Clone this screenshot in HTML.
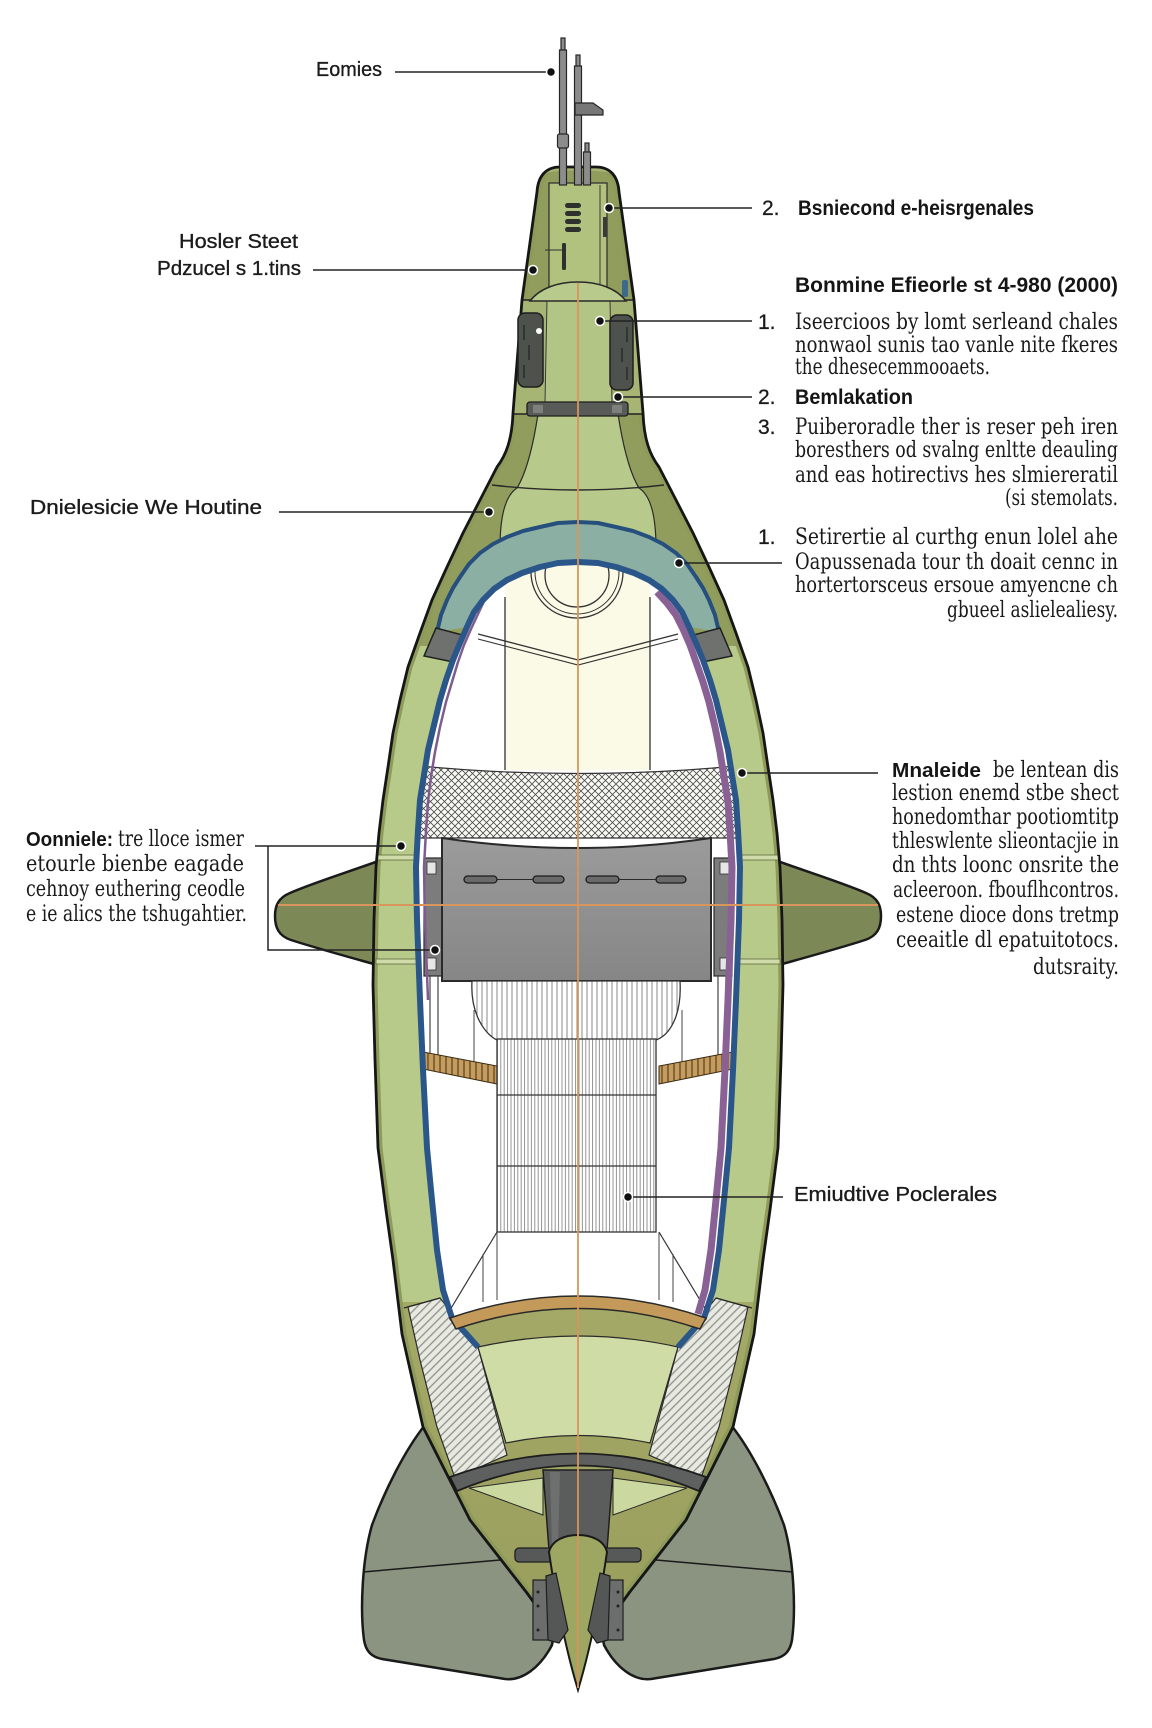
<!DOCTYPE html>
<html>
<head>
<meta charset="utf-8">
<style>
  html,body{margin:0;padding:0;background:#fff;}
  svg{display:block;}
  .lab{font-family:"Liberation Sans",Arial,sans-serif;font-size:20px;fill:#1b1b1b;stroke:#1b1b1b;stroke-width:0.35;}
  .bold{font-family:"Liberation Sans",Arial,sans-serif;font-weight:bold;font-size:21px;fill:#151515;}
  .num{font-family:"Liberation Sans",Arial,sans-serif;font-size:21px;fill:#1b1b1b;stroke:#1b1b1b;stroke-width:0.3;}
  .ser{font-family:"DejaVu Serif","Liberation Serif",serif;font-size:22px;fill:#1a1a1a;}
</style>
</head>
<body>
<svg width="1152" height="1728" viewBox="0 0 1152 1728" xmlns="http://www.w3.org/2000/svg">
<defs>
  <clipPath id="bodyClip">
    <path d="M560,167 L596,167 C610,167 618,176 619,192 L634,300 L643,413 C644,440 650,455 659,467 L676,500 L693,533 L709,567 L724,600 L736,633 L748,667 L756,700 L763,733 L768,767 L773,800 L777,833 L780,867 L782,920 L783,985 L781,1060 L778,1148 L770,1210 L763,1260 L754,1334 L733,1427 L686,1520 L629,1593 L606,1625 L550,1625 L527,1593 L470,1520 L423,1427 L402,1334 L393,1260 L386,1210 L378,1148 L375,1060 L373,985 L374,920 L376,867 L379,833 L383,800 L388,767 L393,733 L400,700 L408,667 L420,633 L432,600 L447,567 L463,533 L480,500 L497,467 C506,455 512,440 513,413 L522,300 L537,192 C538,176 546,167 560,167 Z"/>
  </clipPath>
  <clipPath id="cavClip">
    <path d="M452,1318 L443,1290 L437,1250 L431,1190 L427,1148 L423,1070 L420,1000 L417,920 L416,867 L418,830 L420,800 L424,775 L428,750 L434,725 L440,700 L446,680 L453,660 L460,643 L467,627 L474,612 L483,600 L494,589 L507,580 L522,573 L540,567 L558,563 L578,562 L598,563 L616,567 L634,573 L649,580 L662,589 L673,600 L682,612 L689,627 L696,643 L703,660 L710,680 L716,700 L722,725 L728,750 L732,775 L736,800 L738,830 L740,867 L739,920 L736,1000 L733,1070 L729,1148 L725,1190 L719,1250 L713,1290 L704,1318 Q578,1276 452,1318 Z"/>
  </clipPath>
  <pattern id="hatch" width="6" height="6" patternUnits="userSpaceOnUse" patternTransform="rotate(45)">
    <rect width="6" height="6" fill="#e8eae2"/>
    <line x1="1" y1="0" x2="1" y2="6" stroke="#8d8f8a" stroke-width="1.3"/>
  </pattern>
  <pattern id="xh" width="7" height="7" patternUnits="userSpaceOnUse">
    <rect width="7" height="7" fill="#fbfbf6"/>
    <path d="M0,0 L7,7 M7,0 L0,7" stroke="#4a4a4a" stroke-width="0.8"/>
  </pattern>
  <pattern id="vl" width="3.4" height="10" patternUnits="userSpaceOnUse">
    <rect width="3.4" height="10" fill="#ffffff"/>
    <line x1="1" y1="0" x2="1" y2="10" stroke="#7a7a7a" stroke-width="0.8"/>
  </pattern>
  <pattern id="pleat" width="5" height="10" patternUnits="userSpaceOnUse">
    <rect width="5" height="10" fill="#ffffff"/>
    <line x1="2" y1="0" x2="2" y2="10" stroke="#6a6a6a" stroke-width="0.8"/>
  </pattern>
  <pattern id="wood" width="6" height="10" patternUnits="userSpaceOnUse">
    <rect width="6" height="10" fill="#c39c60"/>
    <line x1="2" y1="0" x2="2" y2="10" stroke="#7a5628" stroke-width="1.6"/>
  </pattern>
  <linearGradient id="boxg" x1="0" y1="0" x2="0" y2="1">
    <stop offset="0" stop-color="#9b9b9b"/>
    <stop offset="1" stop-color="#868686"/>
  </linearGradient>
  <linearGradient id="tailg" x1="0" y1="0" x2="0" y2="1">
    <stop offset="0" stop-color="#a5a967"/>
    <stop offset="1" stop-color="#979c5a"/>
  </linearGradient>
</defs>

<rect width="1152" height="1728" fill="#ffffff"/>

<!-- horizontal fins -->
<path d="M395,855 C355,870 315,882 290,893 C278,898 275,906 275,916 C275,928 279,936 291,940 C322,950 360,960 395,970 Z" fill="#7d8857" stroke="#1a1a1a" stroke-width="2.5"/>
<path d="M761,855 C801,870 841,882 866,893 C878,898 881,906 881,916 C881,928 877,936 865,940 C834,950 796,960 761,970 Z" fill="#7d8857" stroke="#1a1a1a" stroke-width="2.5"/>

<!-- tail fins -->
<path d="M425,1425 C405,1450 385,1490 372,1525 C362,1560 360,1610 364,1640 C366,1652 372,1657 382,1659 L505,1679 C522,1681 540,1668 552,1645 L560,1600 L470,1520 Z" fill="#8a9481" stroke="#1a1a1a" stroke-width="2.5"/>
<path d="M731,1425 C751,1450 771,1490 784,1525 C794,1560 796,1610 792,1640 C790,1652 784,1657 774,1659 L651,1679 C634,1681 616,1668 604,1645 L596,1600 L686,1520 Z" fill="#8a9481" stroke="#1a1a1a" stroke-width="2.5"/>
<line x1="363" y1="1572" x2="500" y2="1560" stroke="#1a1a1a" stroke-width="1.5"/>
<line x1="793" y1="1572" x2="656" y2="1560" stroke="#1a1a1a" stroke-width="1.5"/>

<!-- body base -->
<path d="M560,167 L596,167 C610,167 618,176 619,192 L634,300 L643,413 C644,440 650,455 659,467 L676,500 L693,533 L709,567 L724,600 L736,633 L748,667 L756,700 L763,733 L768,767 L773,800 L777,833 L780,867 L782,920 L783,985 L781,1060 L778,1148 L770,1210 L763,1260 L754,1334 L733,1427 L686,1520 L629,1593 L606,1625 L550,1625 L527,1593 L470,1520 L423,1427 L402,1334 L393,1260 L386,1210 L378,1148 L375,1060 L373,985 L374,920 L376,867 L379,833 L383,800 L388,767 L393,733 L400,700 L408,667 L420,633 L432,600 L447,567 L463,533 L480,500 L497,467 C506,455 512,440 513,413 L522,300 L537,192 C538,176 546,167 560,167 Z" fill="#b8ca89"/>

<g clip-path="url(#bodyClip)">
  <rect x="300" y="160" width="560" height="486" fill="#919d5c"/>
  <rect x="300" y="1302" width="560" height="400" fill="url(#tailg)"/>
  <path d="M560,167 L596,167 C610,167 618,176 619,192 L634,300 L643,413 C644,440 650,455 659,467 L676,500 L693,533 L709,567 L724,600 L736,633 L748,667 L756,700 L763,733 L768,767 L773,800 L777,833 L780,867 L782,920 L783,985 L781,1060 L778,1148 L770,1210 L763,1260 L754,1334 L733,1427 L686,1520 L629,1593 L606,1625 L550,1625 L527,1593 L470,1520 L423,1427 L402,1334 L393,1260 L386,1210 L378,1148 L375,1060 L373,985 L374,920 L376,867 L379,833 L383,800 L388,767 L393,733 L400,700 L408,667 L420,633 L432,600 L447,567 L463,533 L480,500 L497,467 C506,455 512,440 513,413 L522,300 L537,192 C538,176 546,167 560,167 Z" fill="none" stroke="#8e9a5a" stroke-width="9"/>

  <rect x="549" y="183" width="58" height="110" fill="#b1c27f" stroke="#2a2a2a" stroke-width="1.2"/>
  <path d="M545,172 C555,168 600,168 612,172" fill="none" stroke="#a9b575" stroke-width="3"/>
  <line x1="600" y1="185" x2="600" y2="290" stroke="#3a3a3a" stroke-width="1"/>
  <rect x="603" y="217" width="4" height="20" fill="#3a3a3a"/>

  <path d="M522,300 L634,300 L643,414 L513,414 Z" fill="#b3c585"/>
  <path d="M522,300 L547,300 L545,414 L513,414 Z" fill="#a6b573"/>
  <path d="M610,300 L634,300 L643,414 L612,414 Z" fill="#a6b573"/>
  <line x1="547" y1="300" x2="545" y2="403" stroke="#3a3a3a" stroke-width="1"/>
  <line x1="610" y1="300" x2="612" y2="403" stroke="#3a3a3a" stroke-width="1"/>
  <line x1="520" y1="300" x2="636" y2="300" stroke="#222" stroke-width="1.5"/>
  <line x1="512" y1="414" x2="645" y2="414" stroke="#222" stroke-width="1.5"/>

  <path d="M538,414 L618,414 C622,440 628,470 639,488 C650,495 656,515 656,548 L500,548 C500,515 506,495 517,488 C528,470 534,440 538,414 Z" fill="#b8ca8b" stroke="#2a2a2a" stroke-width="1.2"/>
  <path d="M492,485 Q578,495 664,485" fill="none" stroke="#2a2a2a" stroke-width="1.4"/>

  <path d="M437,632 L441,615 L447,600 L453,588 L460,577 L469,564 L480,553 L493,544 L507,537 L523,531 L540,527 L558,523 L578,522 L598,523 L616,527 L633,531 L649,537 L663,544 L676,553 L687,564 L696,577 L703,588 L709,600 L715,615 L719,632 L689,627 L682,612 L673,600 L662,589 L649,580 L634,573 L616,567 L598,563 L578,562 L558,563 L540,567 L522,573 L507,580 L494,589 L483,600 L474,612 L467,627 Z" fill="#8cafa4"/>
  <path d="M437,632 L441,615 L447,600 L453,588 L460,577 L469,564 L480,553 L493,544 L507,537 L523,531 L540,527 L558,523 L578,522 L598,523 L616,527 L633,531 L649,537 L663,544 L676,553 L687,564 L696,577 L703,588 L709,600 L715,615 L719,632" fill="none" stroke="#264f7e" stroke-width="4" stroke-linejoin="round"/>
  <path d="M424,656 L436,628 L470,637 L463,664 Z" fill="#6e716e" stroke="#1e1e1e" stroke-width="1.5"/>
  <path d="M732,656 L720,628 L686,637 L693,664 Z" fill="#6e716e" stroke="#1e1e1e" stroke-width="1.5"/>

  <rect x="376" y="855" width="42" height="5" fill="#d0dbaa" stroke="#5e6a3e" stroke-width="0.8"/>
  <rect x="376" y="959" width="42" height="5" fill="#d0dbaa" stroke="#5e6a3e" stroke-width="0.8"/>
  <rect x="738" y="855" width="42" height="5" fill="#d0dbaa" stroke="#5e6a3e" stroke-width="0.8"/>
  <rect x="738" y="959" width="42" height="5" fill="#d0dbaa" stroke="#5e6a3e" stroke-width="0.8"/>

  <path d="M408,1307 L440,1298 L448,1308 L455,1318 L478,1347 L507,1455 L455,1478 L437,1427 L420,1360 Z" fill="url(#hatch)" stroke="#2a2a2a" stroke-width="1.2"/>
  <path d="M748,1307 L716,1298 L708,1308 L701,1318 L678,1347 L649,1455 L701,1478 L719,1427 L736,1360 Z" fill="url(#hatch)" stroke="#2a2a2a" stroke-width="1.2"/>
  <path d="M478,1347 Q578,1325 678,1347 L650,1443 Q578,1428 506,1443 Z" fill="#cfdca6" stroke="#2a2a2a" stroke-width="1.2"/>
  <path d="M469,1488 L543,1478 L543,1515 Z" fill="#cbd9a0" stroke="#2a2a2a" stroke-width="1"/>
  <path d="M687,1488 L613,1478 L613,1515 Z" fill="#cbd9a0" stroke="#2a2a2a" stroke-width="1"/>
</g>

<!-- cavity -->
<g clip-path="url(#cavClip)">
  <rect x="400" y="550" width="360" height="780" fill="#ffffff"/>
  <rect x="505" y="555" width="145" height="215" fill="#fafae6"/>
  <circle cx="577" cy="572" r="46" fill="none" stroke="#333" stroke-width="1.3"/>
  <circle cx="577" cy="572" r="42" fill="none" stroke="#333" stroke-width="1"/>
  <circle cx="577" cy="575" r="32" fill="none" stroke="#333" stroke-width="1.3"/>
  <line x1="505" y1="597" x2="505" y2="770" stroke="#333" stroke-width="1.3"/>
  <line x1="650" y1="597" x2="650" y2="770" stroke="#333" stroke-width="1.3"/>
  <path d="M478,634 L578,660 L678,634" fill="none" stroke="#333" stroke-width="1.3"/>
  <path d="M478,639 L578,665 L678,639" fill="none" stroke="#333" stroke-width="1.1"/>
  <path d="M410,765 Q578,782 746,765 L746,838 L410,838 Z" fill="url(#xh)" stroke="#333" stroke-width="1.2"/>
  <rect x="424" y="858" width="18" height="118" fill="#7c7c7c" stroke="#2a2a2a" stroke-width="1.2"/>
  <rect x="714" y="858" width="18" height="118" fill="#7c7c7c" stroke="#2a2a2a" stroke-width="1.2"/>
  <rect x="427" y="862" width="9" height="12" fill="#e6e6e6" stroke="#333" stroke-width="0.8"/>
  <rect x="427" y="958" width="9" height="12" fill="#e6e6e6" stroke="#333" stroke-width="0.8"/>
  <rect x="720" y="862" width="9" height="12" fill="#e6e6e6" stroke="#333" stroke-width="0.8"/>
  <rect x="720" y="958" width="9" height="12" fill="#e6e6e6" stroke="#333" stroke-width="0.8"/>
  <line x1="430" y1="976" x2="430" y2="1060" stroke="#444" stroke-width="1.2"/>
  <line x1="438" y1="976" x2="438" y2="1058" stroke="#444" stroke-width="1.2"/>
  <line x1="726" y1="976" x2="726" y2="1060" stroke="#444" stroke-width="1.2"/>
  <line x1="718" y1="976" x2="718" y2="1058" stroke="#444" stroke-width="1.2"/>
  <line x1="474" y1="1010" x2="474" y2="1062" stroke="#444" stroke-width="1"/>
  <line x1="682" y1="1010" x2="682" y2="1062" stroke="#444" stroke-width="1"/>
  <path d="M442,838 Q578,858 711,838 L711,981 L442,981 Z" fill="url(#boxg)" stroke="#2a2a2a" stroke-width="2"/>
  <g fill="#6a6a6a" stroke="#1e1e1e" stroke-width="1.3">
    <rect x="464" y="876" width="33" height="7" rx="3.5"/>
    <rect x="533" y="876" width="31" height="7" rx="3.5"/>
    <rect x="586" y="876" width="33" height="7" rx="3.5"/>
    <rect x="656" y="876" width="30" height="7" rx="3.5"/>
  </g>
  <line x1="497" y1="879.5" x2="533" y2="879.5" stroke="#2a2a2a" stroke-width="1"/>
  <line x1="619" y1="879.5" x2="656" y2="879.5" stroke="#2a2a2a" stroke-width="1"/>
  <path d="M418,1051 L497,1066 L497,1084 L418,1068 Z" fill="url(#wood)" stroke="#3a2a10" stroke-width="1"/>
  <path d="M738,1051 L659,1066 L659,1084 L738,1068 Z" fill="url(#wood)" stroke="#3a2a10" stroke-width="1"/>
  <path d="M472,981 L680,981 C682,1015 670,1035 656,1040 L497,1040 C486,1035 470,1015 472,981 Z" fill="url(#pleat)" stroke="#333" stroke-width="1.3"/>
  <rect x="497" y="1039" width="159" height="193" fill="url(#vl)" stroke="#333" stroke-width="1.3"/>
  <line x1="497" y1="1095" x2="656" y2="1095" stroke="#333" stroke-width="1.3"/>
  <line x1="497" y1="1166" x2="656" y2="1166" stroke="#333" stroke-width="1.3"/>
  <line x1="497" y1="1232" x2="450" y2="1310" stroke="#333" stroke-width="1.2"/>
  <line x1="659" y1="1232" x2="706" y2="1310" stroke="#333" stroke-width="1.2"/>
  <line x1="483" y1="1254" x2="483" y2="1302" stroke="#444" stroke-width="1"/>
  <line x1="497" y1="1232" x2="497" y2="1300" stroke="#444" stroke-width="1"/>
  <line x1="673" y1="1254" x2="673" y2="1302" stroke="#444" stroke-width="1"/>
  <line x1="659" y1="1232" x2="659" y2="1300" stroke="#444" stroke-width="1"/>
</g>

<path d="M657,592 L667,603 L676,615 L683,629 L690,645 L696,662 L703,682 L709,702 L715,727 L720,752 L724,777 L728,802 L730,831 L732,867 L731,920 L728,1000 L725,1070 L721,1148 L717,1190 L711,1250 L705,1290 L698,1314" fill="none" stroke="#8a6195" stroke-width="7" stroke-linejoin="round"/>
<path d="M497,586 L486,597 L478,614 L471,629 L464,645 L458,662 L452,682 L446,702 L440,727 L435,752 L431,777 L428,802 L426,831 L424,867 L425,920 L428,1000" fill="none" stroke="#7e5d8e" stroke-width="2.5" stroke-linejoin="round"/>
<path d="M478,1347 L452,1318 L443,1290 L437,1250 L431,1190 L427,1148 L423,1070 L420,1000 L417,920 L416,867 L418,830 L420,800 L424,775 L428,750 L434,725 L440,700 L446,680 L453,660 L460,643 L467,627 L474,612 L483,600 L494,589 L507,580 L522,573 L540,567 L558,563 L578,562 L598,563 L616,567 L634,573 L649,580 L662,589 L673,600 L682,612 L689,627 L696,643 L703,660 L710,680 L716,700 L722,725 L728,750 L732,775 L736,800 L738,830 L740,867 L739,920 L736,1000 L733,1070 L729,1148 L725,1190 L719,1250 L713,1290 L704,1318 L678,1347" fill="none" stroke="#2a568a" stroke-width="6" stroke-linejoin="round"/>

<path d="M450,1318 Q578,1274 706,1318 L700,1329 Q578,1288 456,1329 Z" fill="#c39a5a" stroke="#2a2a2a" stroke-width="1.5"/>
<line x1="404" y1="1308" x2="440" y2="1298" stroke="#2a2a2a" stroke-width="1.2"/>
<line x1="752" y1="1308" x2="716" y2="1298" stroke="#2a2a2a" stroke-width="1.2"/>

<path d="M543,1470 L613,1470 L607,1550 L549,1550 Z" fill="#5b5d5c" stroke="#1e1e1e" stroke-width="1.5"/>
<path d="M550,1472 L560,1472 L558,1548 L552,1548 Z" fill="#6e706f"/>
<path d="M450,1477 Q578,1430 706,1477 L699,1491 Q578,1440 457,1491 Z" fill="#5e605f" stroke="#1e1e1e" stroke-width="1.8"/>

<path d="M560,167 L596,167 C610,167 618,176 619,192 L634,300 L643,413 C644,440 650,455 659,467 L676,500 L693,533 L709,567 L724,600 L736,633 L748,667 L756,700 L763,733 L768,767 L773,800 L777,833 L780,867 L782,920 L783,985 L781,1060 L778,1148 L770,1210 L763,1260 L754,1334 L733,1427 L686,1520 L629,1593 L606,1625 M550,1625 L527,1593 L470,1520 L423,1427 L402,1334 L393,1260 L386,1210 L378,1148 L375,1060 L373,985 L374,920 L376,867 L379,833 L383,800 L388,767 L393,733 L400,700 L408,667 L420,633 L432,600 L447,567 L463,533 L480,500 L497,467 C506,455 512,440 513,413 L522,300 L537,192 C538,176 546,167 560,167" fill="none" stroke="#161616" stroke-width="2.8" stroke-linejoin="round"/>

<rect x="515" y="1548" width="38" height="14" rx="4" fill="#575958" stroke="#1e1e1e" stroke-width="1.3"/>
<rect x="603" y="1548" width="38" height="14" rx="4" fill="#575958" stroke="#1e1e1e" stroke-width="1.3"/>
<path d="M549,1552 C552,1540 565,1535 578,1535 C591,1535 604,1540 607,1552 C600,1600 590,1650 578,1690 C566,1650 556,1600 549,1552 Z" fill="#9ea761" stroke="#1a1a1a" stroke-width="2"/>
<rect x="533" y="1580" width="16" height="60" fill="#6c6e6d" stroke="#1e1e1e" stroke-width="1.2"/>
<path d="M546,1576 L556,1573 L568,1630 L559,1643 L548,1640 Z" fill="#555756" stroke="#1e1e1e" stroke-width="1.2"/>
<rect x="607" y="1580" width="16" height="60" fill="#6c6e6d" stroke="#1e1e1e" stroke-width="1.2"/>
<path d="M610,1576 L600,1573 L588,1630 L597,1643 L608,1640 Z" fill="#555756" stroke="#1e1e1e" stroke-width="1.2"/>
<circle cx="538" cy="1592" r="1.5" fill="#222"/><circle cx="538" cy="1606" r="1.5" fill="#222"/><circle cx="538" cy="1630" r="1.5" fill="#222"/>
<circle cx="618" cy="1592" r="1.5" fill="#222"/><circle cx="618" cy="1606" r="1.5" fill="#222"/><circle cx="618" cy="1630" r="1.5" fill="#222"/>

<g fill="#8c8c8c" stroke="#262626" stroke-width="1.2">
  <rect x="561" y="38" width="4" height="14"/>
  <rect x="559.5" y="50" width="7" height="135"/>
  <rect x="557.5" y="134" width="11" height="14" rx="2"/>
  <rect x="576" y="55" width="4" height="13"/>
  <rect x="574.5" y="66" width="7" height="119"/>
  <path d="M575,103 L593,103 L603,110 L603,115 L575,115 Z" fill="#777"/>
  <rect x="585" y="143" width="4" height="11"/>
  <rect x="583.5" y="152" width="7" height="33"/>
</g>

<g fill="#2d302c">
  <rect x="565" y="203" width="16" height="5" rx="2.5"/>
  <rect x="565" y="211" width="16" height="5" rx="2.5"/>
  <rect x="565" y="219" width="16" height="5" rx="2.5"/>
  <rect x="565" y="227" width="16" height="5" rx="2.5"/>
  <rect x="562" y="243" width="4" height="27" rx="1.5"/>
</g>
<line x1="545" y1="250" x2="562" y2="250" stroke="#2d302c" stroke-width="1"/>
<rect x="622" y="280" width="6" height="17" rx="2" fill="#3d6a8a"/>
<path d="M530,301 C540,288 558,282 578,282 C598,282 616,288 626,301 Z" fill="#b9cb8c" stroke="#2a2a2a" stroke-width="1.5"/>
<rect x="518" y="313" width="25" height="74" rx="7" fill="#4d524d" stroke="#1e1e1e" stroke-width="1.5"/>
<circle cx="539" cy="331" r="3" fill="#ffffff"/>
<g stroke="#2a2d2a" stroke-width="1.5"><line x1="524" y1="325" x2="524" y2="340"/><line x1="529" y1="345" x2="529" y2="360"/><line x1="524" y1="365" x2="524" y2="378"/></g>
<rect x="610" y="315" width="23" height="75" rx="7" fill="#4d524d" stroke="#1e1e1e" stroke-width="1.5"/>
<g stroke="#2a2d2a" stroke-width="1.5"><line x1="627" y1="327" x2="627" y2="342"/><line x1="622" y1="348" x2="622" y2="362"/><line x1="627" y1="367" x2="627" y2="380"/></g>
<rect x="527" y="402" width="101" height="14" rx="3" fill="#585b57" stroke="#1e1e1e" stroke-width="1.3"/>
<g fill="#7d807b"><rect x="533" y="405" width="10" height="8"/><rect x="612" y="405" width="10" height="8"/></g>

<line x1="578" y1="283" x2="578" y2="1688" stroke="#d8955c" stroke-width="1.8"/>
<line x1="278" y1="905" x2="878" y2="905" stroke="#d8955c" stroke-width="2"/>

<g stroke="#222" stroke-width="1.5" fill="none">
  <line x1="395" y1="72" x2="551" y2="72"/>
  <line x1="609" y1="208" x2="752" y2="208"/>
  <line x1="313" y1="270" x2="533" y2="270"/>
  <line x1="600" y1="321" x2="752" y2="321"/>
  <line x1="618" y1="397" x2="752" y2="397"/>
  <line x1="279" y1="512" x2="489" y2="512"/>
  <line x1="679" y1="563" x2="782" y2="563"/>
  <line x1="742" y1="773" x2="878" y2="773"/>
  <line x1="255" y1="846" x2="401" y2="846"/>
  <polyline points="268,846 268,950 435,950"/>
  <line x1="628" y1="1197" x2="783" y2="1197"/>
</g>
<g fill="#111" stroke="#ffffff" stroke-width="1.5">
  <circle cx="551" cy="72" r="4.5"/>
  <circle cx="609" cy="208" r="4.5"/>
  <circle cx="533" cy="270" r="4.5"/>
  <circle cx="600" cy="321" r="4.5"/>
  <circle cx="618" cy="397" r="4.5"/>
  <circle cx="489" cy="512" r="4.5"/>
  <circle cx="679" cy="563" r="4.5"/>
  <circle cx="742" cy="773" r="4.5"/>
  <circle cx="401" cy="846" r="4.5"/>
  <circle cx="435" cy="950" r="4.5"/>
  <circle cx="628" cy="1197" r="4.5"/>
</g>

<text class="lab" x="316" y="76" textLength="66" lengthAdjust="spacingAndGlyphs">Eomies</text>
<text class="lab" x="179" y="248" textLength="119" lengthAdjust="spacingAndGlyphs">Hosler Steet</text>
<text class="lab" x="157" y="275" textLength="144" lengthAdjust="spacingAndGlyphs">Pdzucel s 1.tins</text>
<text class="lab" x="30" y="514" textLength="232" lengthAdjust="spacingAndGlyphs">Dnielesicie We Houtine</text>
<text class="lab" x="794" y="1201" textLength="203" lengthAdjust="spacingAndGlyphs">Emiudtive Poclerales</text>

<text class="num" x="762" y="215">2.</text>
<text class="bold" x="798" y="215" textLength="236" lengthAdjust="spacingAndGlyphs">Bsniecond e-heisrgenales</text>
<text class="bold" x="795" y="292" textLength="323" lengthAdjust="spacingAndGlyphs">Bonmine Efieorle st 4-980  (2000)</text>

<text class="num" x="758" y="329">1.</text>
<text class="ser" x="795" y="329" textLength="323" lengthAdjust="spacingAndGlyphs">Iseercioos by lomt serleand chales</text>
<text class="ser" x="795" y="352" textLength="323" lengthAdjust="spacingAndGlyphs">nonwaol sunis tao vanle nite fkeres</text>
<text class="ser" x="795" y="374" textLength="195" lengthAdjust="spacingAndGlyphs">the dhesecemmooaets.</text>
<text class="num" x="758" y="404">2.</text>
<text class="bold" x="795" y="404" textLength="118" lengthAdjust="spacingAndGlyphs">Bemlakation</text>
<text class="num" x="758" y="434">3.</text>
<text class="ser" x="795" y="434" textLength="323" lengthAdjust="spacingAndGlyphs">Puiberoradle ther is reser peh iren</text>
<text class="ser" x="795" y="457" textLength="323" lengthAdjust="spacingAndGlyphs">boresthers od svalng enltte deauling</text>
<text class="ser" x="795" y="482" textLength="323" lengthAdjust="spacingAndGlyphs">and eas hotirectivs hes slmiereratil</text>
<text class="ser" x="1005" y="505" textLength="113" lengthAdjust="spacingAndGlyphs">(si stemolats.</text>
<text class="num" x="758" y="544">1.</text>
<text class="ser" x="795" y="544" textLength="323" lengthAdjust="spacingAndGlyphs">Setirertie al curthg enun lolel ahe</text>
<text class="ser" x="795" y="569" textLength="323" lengthAdjust="spacingAndGlyphs">Oapussenada tour th doait cennc in</text>
<text class="ser" x="795" y="592" textLength="323" lengthAdjust="spacingAndGlyphs">hortertorsceus ersoue amyencne ch</text>
<text class="ser" x="947" y="617" textLength="171" lengthAdjust="spacingAndGlyphs">gbueel aslielealiesy.</text>

<text class="bold" style="font-size:20px" x="892" y="777" textLength="89" lengthAdjust="spacingAndGlyphs">Mnaleide</text>
<text class="ser" x="993" y="777" textLength="126" lengthAdjust="spacingAndGlyphs">be lentean dis</text>
<text class="ser" x="892" y="800" textLength="227" lengthAdjust="spacingAndGlyphs">lestion enemd stbe shect</text>
<text class="ser" x="892" y="824" textLength="227" lengthAdjust="spacingAndGlyphs">honedomthar pootiomtitp</text>
<text class="ser" x="892" y="848" textLength="227" lengthAdjust="spacingAndGlyphs">thleswlente slieontacjie in</text>
<text class="ser" x="892" y="872" textLength="227" lengthAdjust="spacingAndGlyphs">dn thts loonc onsrite the</text>
<text class="ser" x="893" y="897" textLength="226" lengthAdjust="spacingAndGlyphs">acleeroon. fbouflhcontros.</text>
<text class="ser" x="896" y="922" textLength="223" lengthAdjust="spacingAndGlyphs">estene dioce dons tretmp</text>
<text class="ser" x="896" y="947" textLength="223" lengthAdjust="spacingAndGlyphs">ceeaitle dl epatuitotocs.</text>
<text class="ser" x="1033" y="974" textLength="86" lengthAdjust="spacingAndGlyphs">dutsraity.</text>

<text class="bold" style="font-size:20px" x="26" y="846" textLength="87" lengthAdjust="spacingAndGlyphs">Oonniele:</text>
<text class="ser" x="118" y="846" textLength="126" lengthAdjust="spacingAndGlyphs">tre lloce ismer</text>
<text class="ser" x="26" y="871" textLength="218" lengthAdjust="spacingAndGlyphs">etourle bienbe eagade</text>
<text class="ser" x="26" y="896" textLength="219" lengthAdjust="spacingAndGlyphs">cehnoy euthering ceodle</text>
<text class="ser" x="26" y="921" textLength="221" lengthAdjust="spacingAndGlyphs">e ie alics the tshugahtier.</text>
</svg>
</body>
</html>
